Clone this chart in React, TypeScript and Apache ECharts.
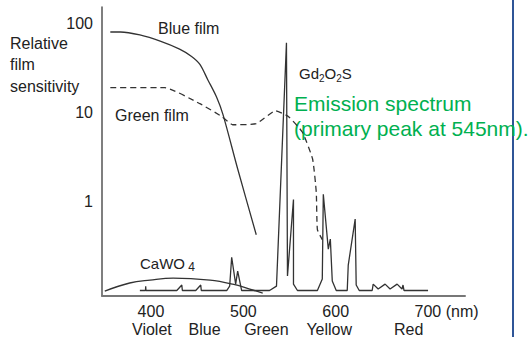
import React, { useEffect, useRef } from 'react';
import * as echarts from 'echarts';

// Wavelength axis (nm)
const xTickValues = [400, 500, 600, 700];
const colorBandNames = ['Violet', 'Blue', 'Green', 'Yellow', 'Red'];
const colorBandNm = [401, 458, 525, 593, 679];
const sensTicks = [1, 10, 100];

// Relative film sensitivity (log scale)
const blueFilmNm = [356, 367, 388, 410, 431, 444, 453, 461.5, 471, 478, 494, 514];
const blueFilmSens = [81, 81, 75, 64, 52, 43, 35, 23.5, 15, 9.5, 2.3, 0.42];

const greenFilmNm = [356, 415, 453, 477, 488.5, 514, 535, 549, 564, 575, 579, 580.2, 585.5];
const greenFilmSens = [19.1, 19.1, 12.6, 9.0, 7.3, 7.5, 10.5, 9.0, 6.0, 3.0, 1.26, 0.48, 0.37];

// Emission spectra (relative intensity, linear)
const caWO4Nm = [350, 377, 399, 424, 464, 488.5, 507, 521];
const caWO4Em = [1.7, 4.5, 5.5, 6.2, 5.5, 4.1, 2.4, 1.0];

const gdNm = [388, 394.1, 394.3, 394.6, 428, 433.4, 434, 448.5, 453.9, 454.5, 482, 485.2, 487.4, 491.7, 493.9, 498.2,
  528.4, 535.9, 546.7, 547.8, 554.3, 554.3, 558.6, 580.2, 585.5, 586.6, 592, 594.2, 596.3, 600.6,
  612.5, 613.6, 621.1, 622.2, 625.5, 639.5, 640.6, 646, 653.5, 658.9, 666.5, 671.8, 672.9, 674, 700];
const gdEm = [1.9, 1.9, 3.4, 1.9, 1.9, 3.8, 1.9, 1.9, 3.8, 1.9, 1.9, 3.4, 13.4, 4.1, 8.6, 1.9,
  1.9, 3.4, 87.6, 6.9, 33.4, 4.1, 1.9, 1.9, 5.9, 35.2, 16.2, 19.7, 5.2, 1.9,
  1.9, 10.7, 26.6, 3.8, 1.9, 1.9, 4.1, 2.4, 4.1, 2.4, 4.1, 2.4, 3.8, 1.9, 1.9];

const FONT = '"Liberation Sans", Arial, sans-serif';
const zip = (a: number[], b: number[]) => a.map((v, i) => [v, b[i]]);

export default function App() {
  const ref = useRef<HTMLDivElement>(null);
  useEffect(() => {
    if (!ref.current) return;
    const chart = echarts.init(ref.current, undefined, { renderer: 'svg' });
    const lineCol = '#333';
    chart.setOption({
      animation: false,
      grid: { left: 102, right: 67, top: 7, bottom: 40 },
      xAxis: [
        {
          type: 'value', min: 347, max: 740,
          axisLine: { show: true, onZero: false, lineStyle: { color: '#777', width: 2 } },
          axisTick: { show: false }, splitLine: { show: false },
          axisLabel: {
            customValues: xTickValues,
            formatter: (v: number) => (v === 700 ? '{pad|}700 (nm)' : String(v)),
            rich: { pad: { width: 37 } },
            fontSize: 16, color: '#222', margin: 7, fontFamily: FONT,
          },
        },
        {
          type: 'value', min: 347, max: 740, position: 'bottom', offset: 18,
          axisLine: { show: false, onZero: false }, axisTick: { show: false }, splitLine: { show: false },
          axisLabel: {
            customValues: colorBandNm,
            formatter: (v: number) => {
              const i = colorBandNm.indexOf(v);
              return i >= 0 ? colorBandNames[i] : '';
            },
            fontSize: 16, color: '#222', margin: 7, fontFamily: FONT,
          },
        },
      ],
      yAxis: [
        {
          type: 'log', logBase: 10, min: 0.0857, max: 155,
          axisLine: { show: true, onZero: false, lineStyle: { color: '#555', width: 1.5 } },
          axisTick: { show: false }, splitLine: { show: false },
          axisLabel: {
            formatter: (v: number) => {
              const t = sensTicks.find((s) => Math.abs(v - s) < s * 1e-4);
              return t !== undefined ? String(t) : '';
            },
            fontSize: 16, color: '#222', margin: 9, fontFamily: FONT,
          },
        },
        { type: 'value', min: 0, max: 100, show: false },
      ],
      series: [
        {
          type: 'line', name: 'Blue film', data: zip(blueFilmNm, blueFilmSens), showSymbol: false, smooth: 0.3,
          lineStyle: { color: lineCol, width: 1.3 }, yAxisIndex: 0,
        },
        {
          type: 'line', name: 'Green film', data: zip(greenFilmNm, greenFilmSens), showSymbol: false, smooth: 0.15,
          lineStyle: { color: lineCol, width: 1.3, type: [6, 4] }, yAxisIndex: 0,
        },
        {
          type: 'line', name: 'CaWO4', data: zip(caWO4Nm, caWO4Em), showSymbol: false, smooth: 0.4,
          lineStyle: { color: lineCol, width: 1.3 }, yAxisIndex: 1,
        },
        {
          type: 'line', name: 'Gd2O2S', data: zip(gdNm, gdEm), showSymbol: false,
          lineStyle: { color: lineCol, width: 1.3 }, yAxisIndex: 1,
        },
      ],
      graphic: [
        { type: 'line', shape: { x1: 513, y1: 0, x2: 513, y2: 337 }, style: { stroke: '#2F5597', lineWidth: 2 } },
        { type: 'text', x: 10, y: 43, style: { text: 'Relative', fontSize: 16, fill: '#222', fontFamily: FONT, verticalAlign: 'middle' } },
        { type: 'text', x: 10, y: 64, style: { text: 'film', fontSize: 16, fill: '#222', fontFamily: FONT, verticalAlign: 'middle' } },
        { type: 'text', x: 10, y: 86, style: { text: 'sensitivity', fontSize: 16, fill: '#222', fontFamily: FONT, verticalAlign: 'middle' } },
        { type: 'text', x: 158, y: 28, style: { text: 'Blue film', fontSize: 16, fill: '#222', fontFamily: FONT, verticalAlign: 'middle' } },
        { type: 'text', x: 115, y: 115, style: { text: 'Green film', fontSize: 16, fill: '#222', fontFamily: FONT, verticalAlign: 'middle' } },
        {
          type: 'text', x: 140, y: 263,
          style: {
            text: '{n|CaWO}{s| 4}', fill: '#222', verticalAlign: 'middle',
            rich: {
              n: { fontSize: 15, lineHeight: 20, fontFamily: FONT, fill: '#222' },
              s: { fontSize: 12, verticalAlign: 'bottom', fontFamily: FONT, fill: '#222' },
            },
          },
        },
        {
          type: 'text', x: 299, y: 73,
          style: {
            text: '{n|Gd}{s|2}{n|O}{s|2}{n|S}', fill: '#222', verticalAlign: 'middle',
            rich: {
              n: { fontSize: 15, lineHeight: 20, fontFamily: FONT, fill: '#222' },
              s: { fontSize: 10, verticalAlign: 'bottom', fontFamily: FONT, fill: '#222' },
            },
          },
        },
        { type: 'text', x: 294, y: 103, style: { text: 'Emission spectrum', fontSize: 21, fill: '#00B050', fontFamily: FONT, verticalAlign: 'middle' } },
        { type: 'text', x: 294, y: 128, style: { text: '(primary peak at 545nm).', fontSize: 21, fill: '#00B050', fontFamily: FONT, verticalAlign: 'middle' } },
      ],
    });
    return () => chart.dispose();
  }, []);
  return <div ref={ref} style={{ position: 'fixed', left: 0, top: 0, width: 532, height: 337, background: '#fff' }} />;
}
